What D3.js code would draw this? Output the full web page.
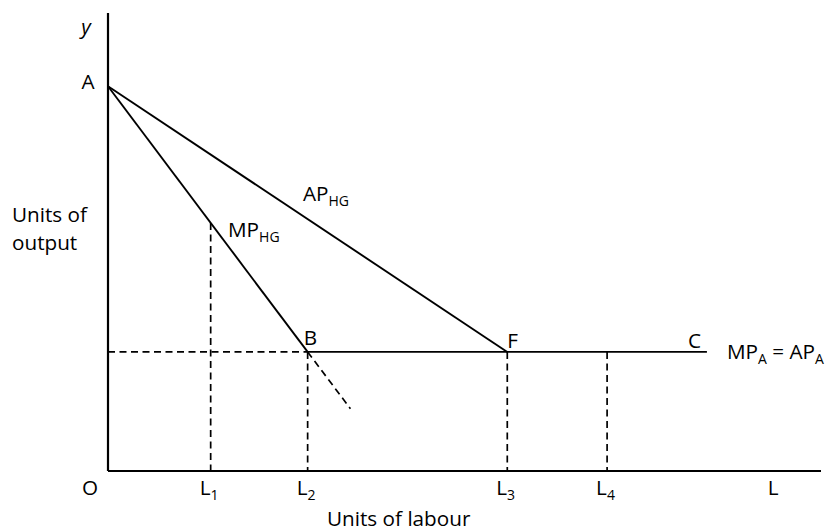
<!DOCTYPE html>
<html>
<head>
<meta charset="utf-8">
<script src="https://cdn.jsdelivr.net/npm/d3@7"></script>
<style>
  html, body { margin: 0; padding: 0; background: #fff; }
  svg { display: block; }
  text { font-family: "Open Sans", "Noto Sans", sans-serif; fill: #000; }
</style>
</head>
<body>
<svg id="chart" width="827" height="531"></svg>
<script>
// ---- data (units of labour on x, units of output on y) ----
const labourTickNames = ["L1", "L2", "L3", "L4"];
const labourTickValues = [14.4, 28, 56, 70];
const axisEndLabel = "L";
const axisEndValue = 93.3;
const outputAtA = 84;       // intercept A
const outputFlat = 26;      // MP_A = AP_A level
const mpHG = [[0, 84], [28, 26]];            // A -> B
const mpHGExtension = [[28, 26], [34, 13.6]]; // dashed continuation
const apHG = [[0, 84], [56, 26]];            // A -> F
const mpA = [[28, 26], [84, 26]];            // B -> C
const pointLabels = ["A", "B", "F", "C"];

// ---- scales ----
const svg = d3.select("#chart");
const x = d3.scaleLinear().domain([0, 100]).range([108, 821]);
const y = d3.scaleLinear().domain([0, 100]).range([471, 13]);
const line = d3.line().x(d => x(d[0])).y(d => y(d[1]));
const dash = "7,4.5";

// MP_HG value at given labour (for L1 drop line)
function mpAt(v) {
  const [p0, p1] = mpHG;
  return p0[1] + (p1[1] - p0[1]) * (v - p0[0]) / (p1[0] - p0[0]);
}

// ---- dashed guide lines ----
const g = svg.append("g");
g.append("line")
  .attr("x1", x(0)).attr("x2", x(mpHG[1][0]))
  .attr("y1", y(outputFlat)).attr("y2", y(outputFlat))
  .attr("stroke", "#000").attr("stroke-width", 1.7).attr("stroke-dasharray", dash);
labourTickValues.forEach((v, i) => {
  const top = i === 0 ? mpAt(v) : outputFlat;
  g.append("line")
    .attr("x1", x(v)).attr("x2", x(v))
    .attr("y1", y(top)).attr("y2", y(0))
    .attr("stroke", "#000").attr("stroke-width", 1.7).attr("stroke-dasharray", dash);
});
g.append("path").attr("d", line(mpHGExtension))
  .attr("fill", "none").attr("stroke", "#000").attr("stroke-width", 1.7)
  .attr("stroke-dasharray", dash);

// ---- solid curves ----
[mpHG, apHG, mpA].forEach(d => {
  g.append("path").attr("d", line(d))
    .attr("fill", "none").attr("stroke", "#000").attr("stroke-width", 1.9);
});

// ---- axes ----
g.append("line").attr("x1", x(0)).attr("x2", x(0)).attr("y1", y(100)).attr("y2", y(0))
  .attr("stroke", "#000").attr("stroke-width", 2.2);
g.append("line").attr("x1", x(0)).attr("x2", x(100)).attr("y1", y(0)).attr("y2", y(0))
  .attr("stroke", "#000").attr("stroke-width", 2.2);

// ---- text helpers ----
const fs = 20.7;
const subFs = 14;
function subText(xp, yp, main, sub, anchor) {
  const t = svg.append("text").attr("x", xp).attr("y", yp)
    .attr("font-size", fs).attr("text-anchor", anchor || "start");
  t.append("tspan").text(main);
  if (sub) {
    t.append("tspan").attr("font-size", subFs).attr("dy", 5).text(sub);
  }
  return t;
}

// axis tick labels
labourTickNames.forEach((n, i) => {
  subText(x(labourTickValues[i]) - 11, 495, n[0], n.slice(1));
});
subText(x(axisEndValue), 495, axisEndLabel, null, "middle");
svg.append("text").attr("x", 90).attr("y", 495).attr("font-size", fs)
  .attr("text-anchor", "middle").text("O");

// y & A
svg.append("text").attr("x", 86).attr("y", 34).attr("font-size", fs)
  .attr("font-style", "italic").attr("text-anchor", "middle").text("y");
svg.append("text").attr("x", 88).attr("y", 89).attr("font-size", fs)
  .attr("text-anchor", "middle").text(pointLabels[0]);

// point labels
svg.append("text").attr("x", x(mpHG[1][0]) - 4).attr("y", 345).attr("font-size", fs).text(pointLabels[1]);
svg.append("text").attr("x", x(apHG[1][0])).attr("y", 348).attr("font-size", fs).text(pointLabels[2]);
svg.append("text").attr("x", 688).attr("y", 348).attr("font-size", fs).text(pointLabels[3]);

// curve labels
subText(228, 237, "MP", "HG");
subText(303, 201, "AP", "HG");
const mpLab = svg.append("text").attr("x", 727).attr("y", 359).attr("font-size", fs);
mpLab.append("tspan").text("MP");
mpLab.append("tspan").attr("font-size", subFs).attr("dy", 5).text("A");
mpLab.append("tspan").attr("dy", -5).text(" = AP");
mpLab.append("tspan").attr("font-size", subFs).attr("dy", 5).text("A");

// axis titles
svg.append("text").attr("x", 12).attr("y", 222).attr("font-size", fs).text("Units of");
svg.append("text").attr("x", 12).attr("y", 250).attr("font-size", fs).text("output");
svg.append("text").attr("x", 327).attr("y", 526).attr("font-size", fs).text("Units of labour");
</script>
</body>
</html>
